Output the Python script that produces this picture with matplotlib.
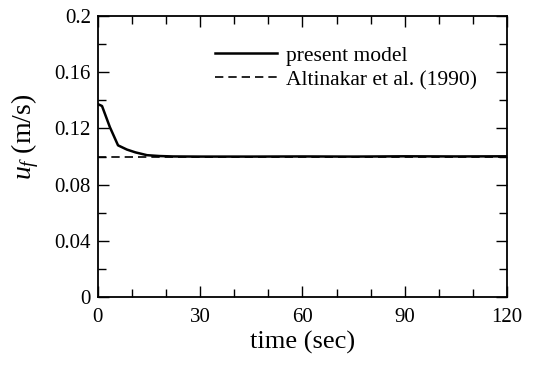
import numpy as np
import matplotlib.pyplot as plt
from matplotlib.ticker import MultipleLocator

# present model
t_model = [0.3, 1.2, 3.5, 5.9, 8.5, 11, 14.4, 18, 22, 30, 45, 60, 75, 90, 105, 120]
u_model = [0.137, 0.136, 0.121, 0.108, 0.105, 0.103, 0.101, 0.1004, 0.1001, 0.1000, 0.1000, 0.1001, 0.1000, 0.1002, 0.1001, 0.1002]

# Altinakar et al. (1990)
t_alt = [0, 120]
u_alt = [0.1, 0.1]

xticks = [0, 30, 60, 90, 120]
yticks = [0, 0.04, 0.08, 0.12, 0.16, 0.2]
ytick_labels = ["0", "0.04", "0.08", "0.12", "0.16", "0.2"]

plt.rcParams['font.family'] = ['Liberation Serif', 'DejaVu Serif']
plt.rcParams['mathtext.fontset'] = 'custom'
plt.rcParams['mathtext.it'] = 'Liberation Serif:italic'
plt.rcParams['mathtext.rm'] = 'Liberation Serif'

fig = plt.figure(figsize=(5.41, 3.65), dpi=100)
ax = fig.add_axes([0.181, 0.186, 0.756, 0.770])

ax.plot(t_alt, u_alt, color='black', linewidth=1.2, linestyle=(0, (5, 3)),
        label='Altinakar et al. (1990)')
ax.plot(t_model, u_model, color='black', linewidth=1.8, label='present model')

ax.set_xlim(0, 120)
ax.set_ylim(0, 0.2)
ax.set_xticks(xticks)
ax.set_yticks(yticks)
ax.set_yticklabels(ytick_labels)
ax.xaxis.set_minor_locator(MultipleLocator(10))
ax.yaxis.set_minor_locator(MultipleLocator(0.02))
ax.tick_params(which='both', direction='in', top=True, right=True,
               width=1.0, labelsize=15)
ax.tick_params(which='major', length=8)
ax.tick_params(which='minor', length=6)
ax.tick_params(axis='x', which='major', pad=8)
ax.tick_params(axis='y', which='major', pad=5)
for s in ax.spines.values():
    s.set_linewidth(1.3)

ax.set_xlabel('time (sec)', fontsize=19, labelpad=3)
ax.set_ylabel(r'$u_f$ (m/s)', fontsize=20, labelpad=6)
ax.yaxis.set_label_coords(-0.14, 0.57)

# legend order: present model first
handles, labels = ax.get_legend_handles_labels()
ax.legend(handles[::-1], labels[::-1], loc='upper left',
          bbox_to_anchor=(0.286, 0.895), frameon=False,
          fontsize=15.5, handlelength=2.9, handletextpad=0.42, labelspacing=0.2,
          borderaxespad=0, borderpad=0)

fig.savefig('out.png', dpi=100)
